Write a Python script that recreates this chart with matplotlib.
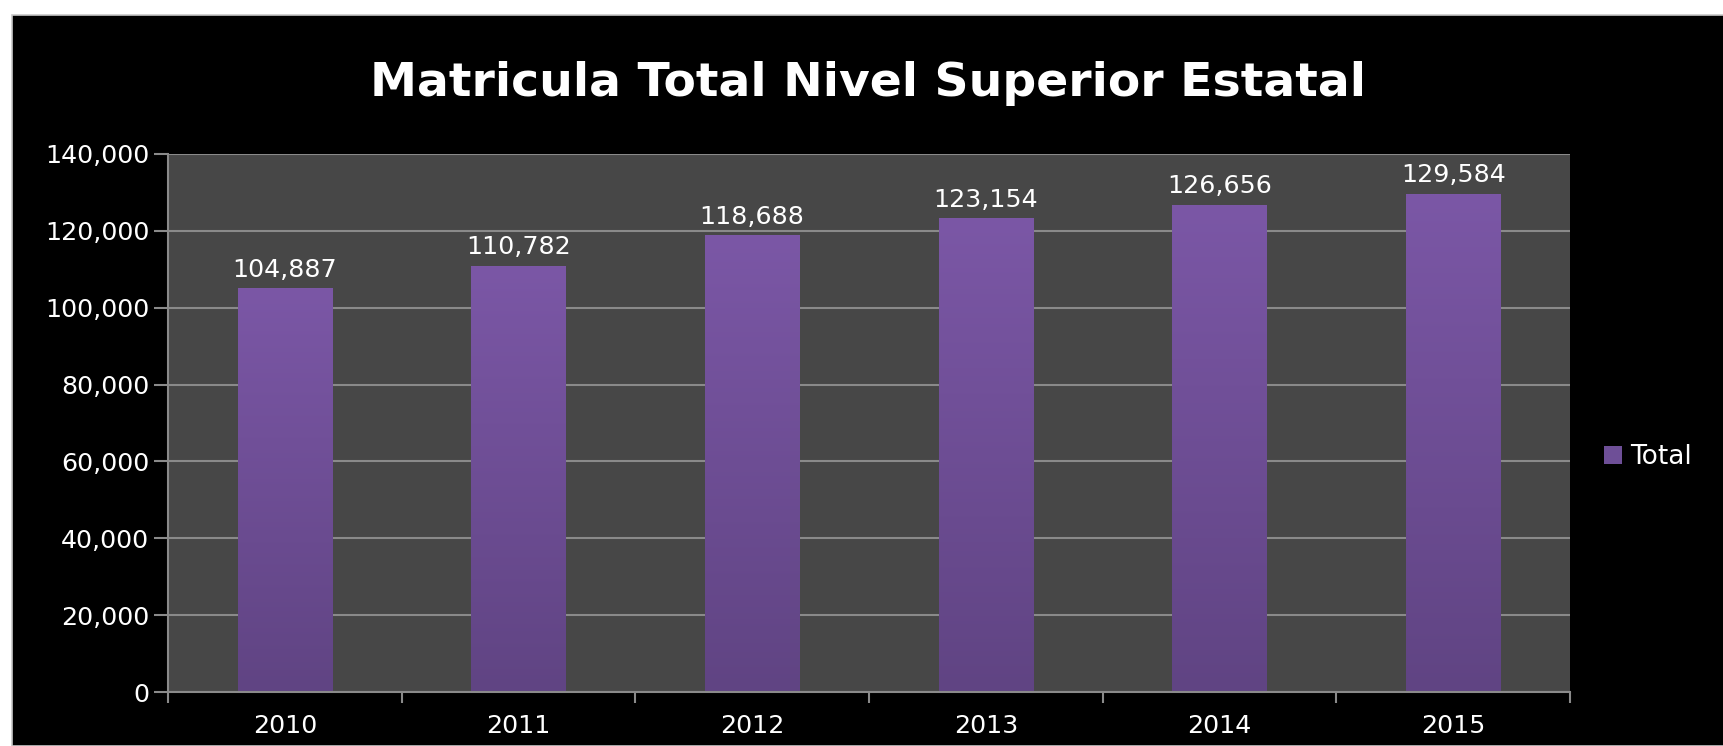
import matplotlib
matplotlib.use("Agg")
import matplotlib.pyplot as plt
import numpy as np
from matplotlib.patches import Rectangle
from matplotlib.colors import LinearSegmentedColormap

years = ["2010", "2011", "2012", "2013", "2014", "2015"]
totals = [104887, 110782, 118688, 123154, 126656, 129584]
yticks = [0, 20000, 40000, 60000, 80000, 100000, 120000, 140000]
title = "Matricula Total Nivel Superior Estatal"
legend_label = "Total"

W, H = 1724, 746
fig = plt.figure(figsize=(W/100, H/100), dpi=100, facecolor="white")
# black panel
fig.patches.append(Rectangle((12/W, 0), 1 - 12/W, 1 - 15/H, transform=fig.transFigure,
                             facecolor="black", edgecolor="#c8c8c8", linewidth=1.2, zorder=-10))

fs = 18.2
left, right, top, bottom = 168, 1570, 154, 692
ax = fig.add_axes([left/W, 1 - bottom/H, (right-left)/W, (bottom-top)/H])
ax.set_facecolor("#474747")
ax.set_xlim(0, len(years))
ax.set_ylim(0, 140000)
ax.set_yticks(yticks)
ax.set_yticklabels([f"{v:,}" for v in yticks])
ax.yaxis.grid(True, color="#8a8a8a", linewidth=1.5)
ax.set_axisbelow(True)
for s in ["top", "right"]:
    ax.spines[s].set_visible(False)
for s in ["left", "bottom"]:
    ax.spines[s].set_color("#8a8a8a")
    ax.spines[s].set_linewidth(1.5)
ax.tick_params(axis="y", colors="white", labelsize=fs, length=10, width=1.5, color="#8a8a8a")
ax.set_xticks(range(0, len(years)+1))
ax.set_xticklabels([])
ax.tick_params(axis="x", length=8, width=1.5, color="#8a8a8a")
for i, y in enumerate(years):
    ax.text(i + 0.5, -0.04, y, transform=ax.get_xaxis_transform(), ha="center", va="top",
            color="white", fontsize=fs)

cmap = LinearSegmentedColormap.from_list("g", ["#604483", "#7b57a6"])
grad = np.linspace(0, 1, 256).reshape(-1, 1)
bw = 0.405
for i, v in enumerate(totals):
    x0 = i + 0.5 - bw/2
    ax.imshow(grad, extent=(x0, x0 + bw, 0, v), origin="lower", aspect="auto",
              cmap=cmap, zorder=2)
    ax.text(i + 0.5, v + 1800, f"{v:,}", ha="center", va="bottom", color="white", fontsize=fs, zorder=3)
ax.set_xlim(0, len(years))
ax.set_ylim(0, 140000)

fig.text(868/W, 1 - 84/H, title, ha="center", va="center", color="white",
         fontsize=34, fontweight="bold")

# legend
lh = Rectangle((0, 0), 1, 1, facecolor="#6e4f97")
fig.legend([lh], [legend_label], loc="center left", bbox_to_anchor=(1580/W, 1 - 457/H),
           frameon=False, fontsize=fs + 0.8, labelcolor="white", handlelength=0.7,
           handleheight=0.7, handletextpad=0.3)

fig.savefig("out.png", dpi=100, facecolor=fig.get_facecolor())
